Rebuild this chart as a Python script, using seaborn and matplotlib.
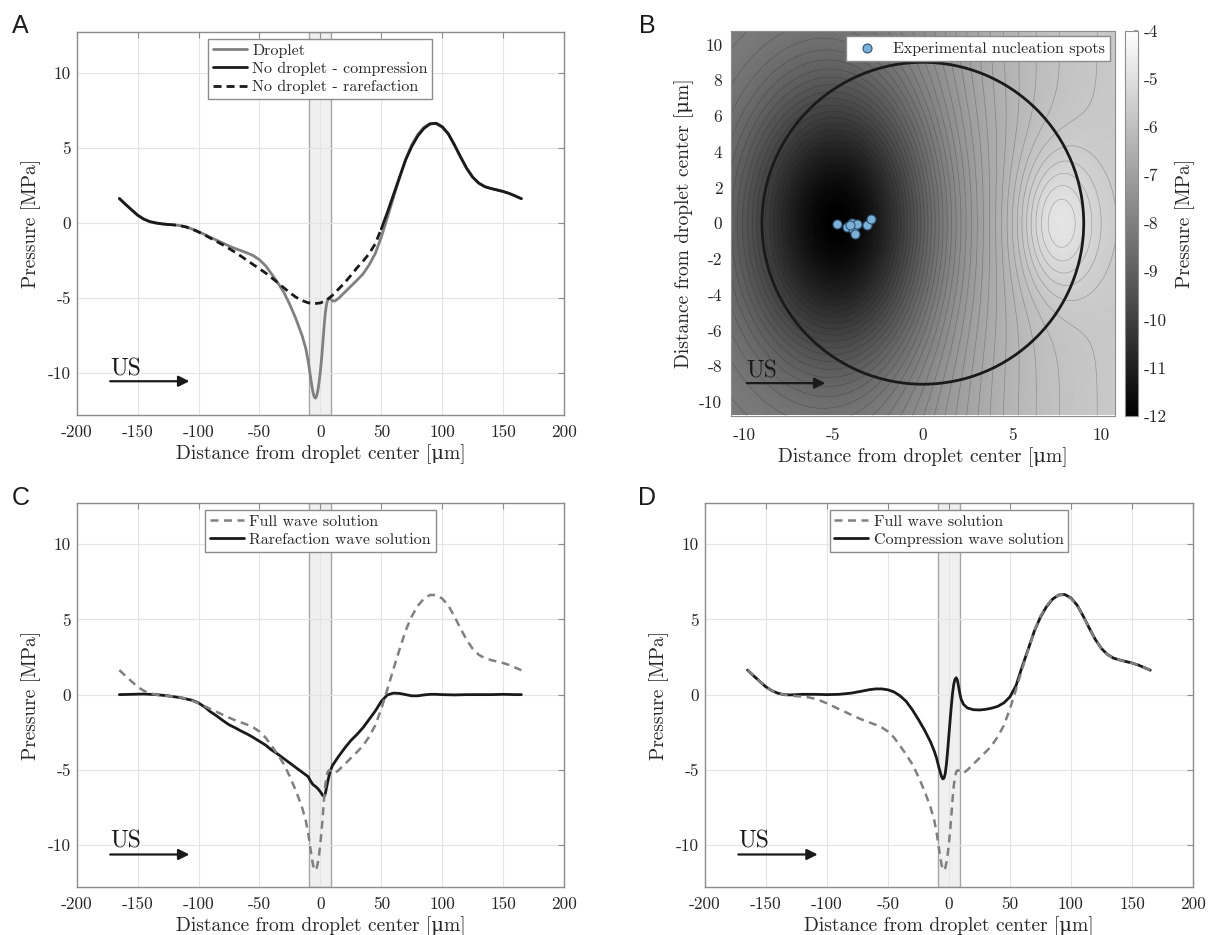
import numpy as np
import matplotlib
matplotlib.use("Agg")
import matplotlib.pyplot as plt
import seaborn as sns
from matplotlib.lines import Line2D
from matplotlib.patches import Circle

# ---------------- axial pressure profiles: (distance [um], pressure [MPa]) ----------------
no_droplet = np.array([
    (-165, 1.63), (-160, 1.25), (-155, 0.88), (-150, 0.52), (-145, 0.26), (-140, 0.09),
    (-135, 0.00), (-130, -0.06), (-125, -0.10), (-120, -0.13), (-115, -0.18), (-110, -0.27),
    (-105, -0.42), (-100, -0.60), (-95, -0.80), (-90, -1.02), (-85, -1.24), (-80, -1.46),
    (-75, -1.70), (-70, -1.95), (-65, -2.22), (-60, -2.50), (-55, -2.78), (-50, -3.05),
    (-45, -3.33), (-40, -3.65), (-35, -3.98), (-30, -4.32), (-25, -4.65), (-20, -4.95),
    (-15, -5.17), (-10, -5.32), (-5, -5.38), (0, -5.33), (5, -5.15), (10, -4.82),
    (15, -4.40), (20, -3.98), (25, -3.50), (30, -3.00), (35, -2.55), (40, -2.05),
    (45, -1.40), (50, -0.40), (55, 0.70), (60, 1.88), (65, 3.05), (70, 4.20),
    (75, 5.10), (80, 5.80), (85, 6.30), (90, 6.60), (95, 6.65), (100, 6.42),
    (105, 5.95), (110, 5.22), (115, 4.42), (120, 3.66), (125, 3.06), (130, 2.66),
    (135, 2.42), (140, 2.30), (145, 2.20), (150, 2.10), (155, 1.97), (160, 1.80), (165, 1.62),
])

droplet = np.array([
    (-165, 1.63), (-160, 1.25), (-155, 0.88), (-150, 0.52), (-145, 0.26), (-140, 0.09),
    (-135, 0.00), (-130, -0.06), (-125, -0.10), (-120, -0.13), (-115, -0.18), (-110, -0.27),
    (-105, -0.41), (-100, -0.58), (-95, -0.77), (-90, -0.97), (-85, -1.15), (-80, -1.34),
    (-75, -1.53), (-70, -1.70), (-65, -1.85), (-60, -2.00), (-55, -2.18), (-50, -2.45),
    (-45, -2.85), (-40, -3.40), (-35, -3.98), (-30, -4.62), (-25, -5.45), (-20, -6.40),
    (-15, -7.50), (-12, -8.35), (-10, -9.20), (-9, -9.75), (-8, -10.30), (-7, -10.85),
    (-6, -11.30), (-5, -11.60), (-4, -11.68), (-3, -11.52), (-2, -11.15), (-1, -10.60),
    (0, -9.90), (1, -9.05), (2, -8.05), (3, -6.95), (4, -6.05), (5, -5.45), (6, -5.13),
    (7, -5.03), (8, -5.03), (9, -5.12), (10, -5.20), (12, -5.20), (15, -5.02),
    (20, -4.62), (25, -4.22), (30, -3.82), (35, -3.40), (40, -2.80), (45, -2.05),
    (50, -0.95), (55, 0.35), (60, 1.70), (65, 3.00), (70, 4.25), (75, 5.20),
    (80, 5.90), (85, 6.38), (90, 6.62), (95, 6.62), (100, 6.38), (105, 5.93),
    (110, 5.20), (115, 4.40), (120, 3.65), (125, 3.05), (130, 2.65), (135, 2.42),
    (140, 2.30), (145, 2.20), (150, 2.10), (155, 1.97), (160, 1.80), (165, 1.62),
])

rarefaction = np.array([
    (-165, 0.00), (-155, 0.02), (-145, 0.04), (-135, 0.00), (-125, -0.08), (-115, -0.20),
    (-105, -0.38), (-100, -0.55), (-95, -0.82), (-90, -1.15), (-85, -1.42), (-80, -1.72),
    (-75, -2.00), (-70, -2.20), (-65, -2.42), (-60, -2.62), (-55, -2.85), (-50, -3.10),
    (-45, -3.35), (-40, -3.68), (-35, -3.95), (-30, -4.25), (-25, -4.55), (-20, -4.85),
    (-15, -5.15), (-10, -5.45), (-8, -5.75), (-6, -5.98), (-4, -6.10), (-2, -6.25),
    (0, -6.45), (2, -6.70), (3, -6.75), (4, -6.60), (5, -6.20), (6, -5.80), (8, -5.10),
    (10, -4.70), (15, -4.10), (20, -3.55), (25, -3.05), (30, -2.65), (35, -2.20),
    (40, -1.65), (45, -1.10), (50, -0.45), (55, -0.02), (60, 0.10), (65, 0.08),
    (70, 0.00), (75, -0.08), (80, -0.08), (85, -0.02), (90, 0.02), (95, 0.02),
    (100, 0.00), (110, -0.02), (120, 0.00), (130, 0.00), (140, 0.00), (150, 0.02),
    (160, 0.00), (165, 0.00),
])

compression = np.array([
    (-165, 1.63), (-160, 1.25), (-155, 0.88), (-150, 0.52), (-145, 0.26), (-140, 0.09),
    (-135, 0.00), (-130, -0.02), (-125, 0.00), (-120, 0.02), (-110, 0.02), (-100, 0.00),
    (-90, 0.02), (-80, 0.10), (-70, 0.25), (-65, 0.33), (-60, 0.38), (-55, 0.38),
    (-50, 0.32), (-45, 0.18), (-40, -0.08), (-35, -0.45), (-30, -1.00), (-25, -1.65),
    (-20, -2.35), (-15, -3.15), (-12, -3.75), (-10, -4.25), (-8, -4.90), (-6, -5.45),
    (-5, -5.60), (-4, -5.55), (-3, -5.25), (-2, -4.60), (-1, -3.70), (0, -2.70),
    (1, -1.70), (2, -0.75), (3, 0.10), (4, 0.70), (5, 1.02), (6, 1.12), (7, 0.95),
    (8, 0.50), (9, 0.05), (10, -0.30), (12, -0.65), (15, -0.88), (20, -1.00),
    (25, -1.02), (30, -0.98), (35, -0.90), (40, -0.78), (45, -0.55), (50, -0.15),
    (55, 0.60), (60, 1.85), (65, 3.02), (70, 4.22), (75, 5.15), (80, 5.85),
    (85, 6.35), (90, 6.62), (95, 6.65), (100, 6.42), (105, 5.95), (110, 5.22),
    (115, 4.42), (120, 3.66), (125, 3.06), (130, 2.66), (135, 2.42), (140, 2.30),
    (145, 2.20), (150, 2.10), (155, 1.97), (160, 1.80), (165, 1.62),
])

# rarefaction half-cycle of the droplet-free field lies between these distances [um]
rarefaction_span = (-125, 50)
droplet_radius = 9.0  # um

# ---------------- pressure map around the droplet (panel B) ----------------
map_half_width = 10.75                      # um
map_background = (-6.8, 1.2, 2.5, 5.5)      # level, step, centre, width  [MPa, MPa, um, um]
map_lobes = [                               # amplitude [MPa], x0, y0, sx, sy [um]
    (-4.16, -4.7, 0.0, 5.0, 7.5),
    (1.10, 7.5, 0.0, 2.2, 3.8),
]
spot_x = [-4.78, -4.27, -3.94, -3.88, -3.68, -3.78, -3.12, -2.88, -4.05]
spot_y = [-0.05, -0.22, 0.02, -0.33, -0.05, -0.62, -0.12, 0.24, -0.10]
cbar_ticks = [-4, -5, -6, -7, -8, -9, -10, -11, -12]
pressure_range = (-12, -4)

# ---------------- ticks ----------------
dist_ticks = [-200, -150, -100, -50, 0, 50, 100, 150, 200]
press_ticks = [-10, -5, 0, 5, 10]
map_xticks = [-10, -5, 0, 5, 10]
map_yticks = [-10, -8, -6, -4, -2, 0, 2, 4, 6, 8, 10]

# ---------------- style ----------------
sns.set_theme(style="white")
plt.rcParams["font.family"] = ["cmr10", "DejaVu Serif"]
plt.rcParams["axes.unicode_minus"] = False
plt.rcParams["mathtext.fontset"] = "cm"
plt.rcParams["contour.negative_linestyle"] = "solid"

TXT = "#262626"
SPINE = "#8c8c8c"
GRID = "#e4e4e4"
XLABEL = "Distance from droplet center [\u03bcm]"
YLABEL = "Pressure [MPa]"

W, H = 1213, 935
fig = plt.figure(figsize=(W / 100, H / 100), dpi=100)


def px_axes(left, top, right, bottom):
    return fig.add_axes([left / W, 1 - bottom / H, (right - left) / W, (bottom - top) / H])


def style_profile_axes(ax):
    ax.set_xlim(-200, 200)
    ax.set_ylim(-12.8, 12.75)
    ax.set_xticks(dist_ticks)
    ax.set_xticklabels([str(t) for t in dist_ticks])
    ax.set_yticks(press_ticks)
    ax.set_yticklabels([str(t) for t in press_ticks])
    ax.set_axisbelow(True)
    ax.grid(True, color=GRID, lw=0.8)
    for s in ax.spines.values():
        s.set_color(SPINE)
        s.set_linewidth(1.0)
    ax.tick_params(axis="both", direction="in", length=4, width=0.8, color=SPINE,
                   labelsize=12.5, labelcolor=TXT, top=True, right=True)
    ax.tick_params(axis="x", pad=7)
    ax.tick_params(axis="y", pad=4)
    ax.set_xlabel(XLABEL, fontsize=14, color=TXT, labelpad=3)
    ax.set_ylabel(YLABEL, fontsize=14, color=TXT, labelpad=5)
    ax.axvspan(-droplet_radius, droplet_radius, facecolor="#f0f0f0",
               edgecolor="#a6a6a6", lw=1.0, zorder=0.3)


def draw_us_arrow(ax, x0, x1, y_arrow, y_text):
    ax.annotate("", xy=(x1, y_arrow), xytext=(x0, y_arrow),
                arrowprops=dict(arrowstyle="-|>", color="k", lw=1.6,
                                mutation_scale=16, shrinkA=0, shrinkB=0), zorder=6)
    ax.text(x0, y_text, "US", fontsize=17, color="k", ha="left", va="baseline", zorder=6)


def line(ax, data, **kw):
    sns.lineplot(x=data[:, 0], y=data[:, 1], ax=ax, estimator=None, sort=False,
                 legend=False, **kw)


def legend_box(ax, handles, labels):
    leg = ax.legend(handles, labels, loc="upper center", bbox_to_anchor=(0.5, 1.0),
                    fontsize=11.5, frameon=True, fancybox=False, framealpha=1,
                    edgecolor=SPINE, borderaxespad=0.45, borderpad=0.3,
                    labelspacing=0.25, handlelength=2.1, handletextpad=0.35)
    leg.get_frame().set_linewidth(1.0)
    for t in leg.get_texts():
        t.set_color(TXT)
    return leg


GRAY = "#808080"
dash_black = (0, (2.9, 1.8))
dash_gray = (0, (3.2, 2.2))

# ---------------- A ----------------
axA = px_axes(76.7, 31.7, 564, 415)
style_profile_axes(axA)
line(axA, droplet, color=GRAY, lw=2.0, zorder=3)
lo, hi = rarefaction_span
x0 = no_droplet[:, 0]
line(axA, no_droplet[x0 <= lo], color="k", lw=2.0, zorder=4)
line(axA, no_droplet[x0 >= hi], color="k", lw=2.0, zorder=4)
line(axA, no_droplet[(x0 >= lo) & (x0 <= hi)], color="k", lw=2.0, linestyle=dash_black, zorder=4)
legend_box(axA,
           [Line2D([], [], color=GRAY, lw=2.0), Line2D([], [], color="k", lw=2.0),
            Line2D([], [], color="k", lw=2.0, linestyle=dash_black)],
           ["Droplet", "No droplet - compression", "No droplet - rarefaction"])
draw_us_arrow(axA, -172.5, -107.5, -10.55, -10.15)

# ---------------- C ----------------
axC = px_axes(76.7, 502.7, 564, 887.3)
style_profile_axes(axC)
line(axC, rarefaction, color="k", lw=2.0, zorder=3)
line(axC, droplet, color=GRAY, lw=1.8, linestyle=dash_gray, zorder=4)
legend_box(axC,
           [Line2D([], [], color=GRAY, lw=1.8, linestyle=dash_gray), Line2D([], [], color="k", lw=2.0)],
           ["Full wave solution", "Rarefaction wave solution"])
draw_us_arrow(axC, -172.5, -107.5, -10.62, -10.15)

# ---------------- D ----------------
axD = px_axes(704.8, 502.7, 1193, 887.3)
style_profile_axes(axD)
line(axD, compression, color="k", lw=2.0, zorder=3)
line(axD, droplet, color=GRAY, lw=1.8, linestyle=dash_gray, zorder=4)
legend_box(axD,
           [Line2D([], [], color=GRAY, lw=1.8, linestyle=dash_gray), Line2D([], [], color="k", lw=2.0)],
           ["Full wave solution", "Compression wave solution"])
draw_us_arrow(axD, -172.5, -107.5, -10.62, -10.15)

# ---------------- B ----------------
axB = px_axes(730.7, 31, 1115, 415.5)
g = np.linspace(-map_half_width, map_half_width, 431)
X, Y = np.meshgrid(g, g)
lvl, step, xc, wd = map_background
P = lvl + step * np.tanh((X - xc) / wd)
for amp, cx, cy, sx, sy in map_lobes:
    P = P + amp * np.exp(-(((X - cx) / sx) ** 2 + ((Y - cy) / sy) ** 2))
im = axB.imshow(P, extent=(-map_half_width, map_half_width, -map_half_width, map_half_width),
                origin="lower", cmap="gray", vmin=pressure_range[0], vmax=pressure_range[1],
                interpolation="bilinear", aspect="auto", zorder=1)
axB.contour(X, Y, P, levels=np.arange(-12, -3.9, 0.16), colors="k", linewidths=0.5,
            linestyles="solid", alpha=0.28, zorder=2)
axB.add_patch(Circle((0, 0), droplet_radius, fill=False, edgecolor="k", lw=2.0, zorder=4))
sns.scatterplot(x=spot_x, y=spot_y, ax=axB, color="#7cb0d6", edgecolor="#2d5070",
                s=42, linewidth=0.8, zorder=5, label="Experimental nucleation spots")
axB.set_xlim(-map_half_width, map_half_width)
axB.set_ylim(-map_half_width, map_half_width)
axB.set_xticks(map_xticks)
axB.set_xticklabels([str(t) for t in map_xticks])
axB.set_yticks(map_yticks)
axB.set_yticklabels([str(t) for t in map_yticks])
for s in axB.spines.values():
    s.set_color(SPINE)
    s.set_linewidth(0.8)
axB.tick_params(axis="both", direction="in", length=0, labelsize=12.5, labelcolor=TXT)
axB.tick_params(axis="x", pad=9)
axB.tick_params(axis="y", pad=6)
axB.set_xlabel(XLABEL, fontsize=14, color=TXT, labelpad=3)
axB.set_ylabel(XLABEL, fontsize=14, color=TXT, labelpad=4)
legB = axB.legend(loc="upper right", fontsize=11.5, frameon=True, fancybox=False,
                  framealpha=1, edgecolor=SPINE, borderaxespad=0.3, borderpad=0.35,
                  handletextpad=0.6, markerscale=1.0)
legB.get_frame().set_linewidth(1.0)
for t in legB.get_texts():
    t.set_color(TXT)
draw_us_arrow(axB, -9.85, -5.45, -8.94, -8.6)

cax = px_axes(1125, 31, 1138.3, 415.5)
cb = fig.colorbar(im, cax=cax, ticks=cbar_ticks)
cb.ax.set_yticklabels([str(t) for t in cbar_ticks])
cb.ax.tick_params(labelsize=12.5, labelcolor=TXT, direction="in", length=3, color=SPINE, pad=4)
cb.outline.set_edgecolor(SPINE)
cb.outline.set_linewidth(0.8)
cb.set_label(YLABEL, fontsize=14, color=TXT, labelpad=6)

# ---------------- panel letters ----------------
for letter, lx, ly in [("A", 12, 33), ("B", 639, 33), ("C", 12, 505), ("D", 638, 505)]:
    fig.text(lx / W, 1 - ly / H, letter, fontsize=18, family="Liberation Sans",
             color="k", ha="left", va="baseline")

fig.savefig("out.png", dpi=100, facecolor="white")
